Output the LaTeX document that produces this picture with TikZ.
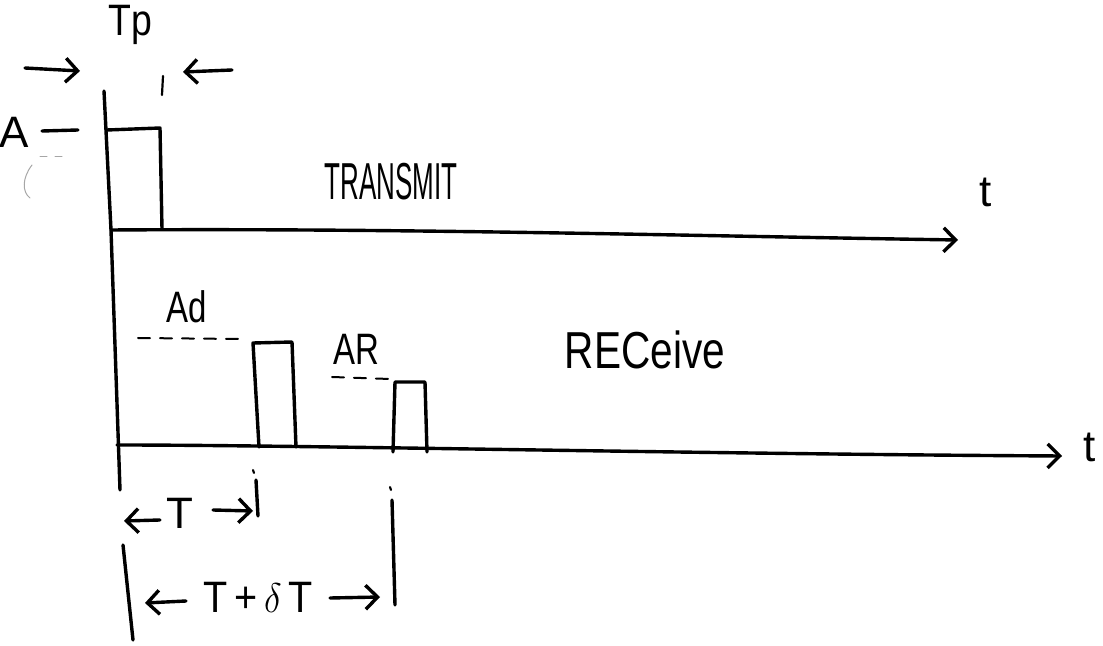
\documentclass[tikz,border=0pt]{standalone}
\usepackage{graphicx}
\usepackage{fontspec}
\setmainfont{Liberation Sans}
\usetikzlibrary{arrows.meta}
\tikzset{
  pen/.style={line width=1.7pt, line cap=round, line join=round},
  thinpen/.style={line width=1.1pt, line cap=round},
  faint/.style={line width=0.5pt, gray!70, line cap=round},
  guide/.style={line width=1.0pt, line cap=round, dash pattern=on 6pt off 5pt},
  barb/.style={-{Straight Barb[length=6pt,width=12pt,line width=1.7pt]}},
  lbl/.style={inner sep=0pt, font=\fontsize{22}{22}\selectfont},
  biglbl/.style={inner sep=0pt, font=\fontsize{26}{26}\selectfont},
}
\begin{document}
\begin{tikzpicture}[x=0.5pt,y=-0.5pt]
\useasboundingbox (0,0) rectangle (1103,646);

% ---- pulse width markers
\node[lbl] (tp) at (130,25) {\scalebox{0.85}[1]{Tp}};
\coordinate (tpl0) at (25,68);
\coordinate (tpl1) at (80,71);
\coordinate (tpr0) at (232,70);
\coordinate (tpr1) at (183,72);
\draw[pen,barb] (tpl0) -- (tpl1);
\draw[pen,barb] (tpr0) -- (tpr1);
\draw[thinpen] (163,76) -- (162,95);

% ---- amplitude label
\node[lbl] (amp) at (14,132) {A};
\coordinate (ampdash0) at (42,131);
\coordinate (ampdash1) at (78,130);
\draw[pen] (ampdash0) -- (ampdash1);
\draw[faint] (40,157) -- (47,157) (55,157) -- (62,157);
\draw[faint] (32,165) .. controls (22,178) and (22,192) .. (30,198);

% ---- time axis (vertical)
\coordinate (v0) at (104,91);
\coordinate (v1) at (111,230);
\coordinate (v2) at (120,490);
\draw[pen] (v0) -- (v1) -- (v2);
\coordinate (v3) at (123,545);
\coordinate (v4) at (133,640);
\draw[pen] (v3) -- (v4);

% ---- transmitted pulse
\coordinate (p0) at (107,130);
\coordinate (p1) at (160,128);
\coordinate (p2) at (162,229);
\draw[pen] (p0) -- (p1) -- (p2);
\coordinate (tx0) at (111,230);
\coordinate (tx1) at (958,240);
\draw[pen,barb] (tx0) .. controls (400,228) and (700,236) .. (tx1);
\node[lbl] (ttx) at (986,192) {t};
\node[biglbl] (transmit) at (391,182) {\scalebox{0.5}[1]{TRANSMIT}};

% ---- received pulses
\coordinate (rx0) at (117,445);
\coordinate (rx1) at (1062,456);
\draw[pen,barb] (rx0) .. controls (300,445) and (700,454) .. (rx1);
\node[lbl] (trx) at (1090,447) {t};
\node[biglbl] (receive) at (645,350) {\scalebox{0.78}[1]{RECeive}};

\node[lbl] (ad) at (187,307) {\scalebox{0.75}[1]{Ad}};
\coordinate (ad0) at (138,338);
\coordinate (ad1) at (240,339);
\draw[guide] (ad0) -- (ad1);
\coordinate (q0) at (259,447);
\coordinate (q1) at (253,343);
\coordinate (q2) at (292,342);
\coordinate (q3) at (296,447);
\draw[pen] (q0) -- (q1) -- (q2) -- (q3);

\node[lbl] (ar) at (356,349) {\scalebox{0.75}[1]{AR}};
\coordinate (ar0) at (332,377);
\coordinate (ar1) at (390,379);
\draw[guide] (ar0) -- (ar1);
\coordinate (r0) at (393,452);
\coordinate (r1) at (395,382);
\coordinate (r2) at (425,382);
\coordinate (r3) at (427,452);
\draw[pen] (r0) -- (r1) -- (r2) -- (r3);

% ---- delay markers
\draw[thinpen] (253,470) -- (254,473);
\draw[pen] (256,480) -- (258,516);
\draw[thinpen] (390,487) -- (391,490);
\draw[pen] (392,500) -- (395,605);

\node[lbl] (del1) at (180,513) {T};
\coordinate (d1a) at (160,520);
\coordinate (d1b) at (124,521);
\coordinate (d1c) at (213,510);
\coordinate (d1d) at (253,511);
\draw[pen,barb] (d1a) -- (d1b);
\draw[pen,barb] (d1c) -- (d1d);

\node[lbl] (del2) at (258,597) {\scalebox{0.9}[1]{T\,+\,$\delta$\,T}};
\coordinate (d2a) at (186,601);
\coordinate (d2b) at (145,603);
\coordinate (d2c) at (330,598);
\coordinate (d2d) at (380,597);
\draw[pen,barb] (d2a) -- (d2b);
\draw[pen,barb] (d2c) -- (d2d);
\end{tikzpicture}
\end{document}
